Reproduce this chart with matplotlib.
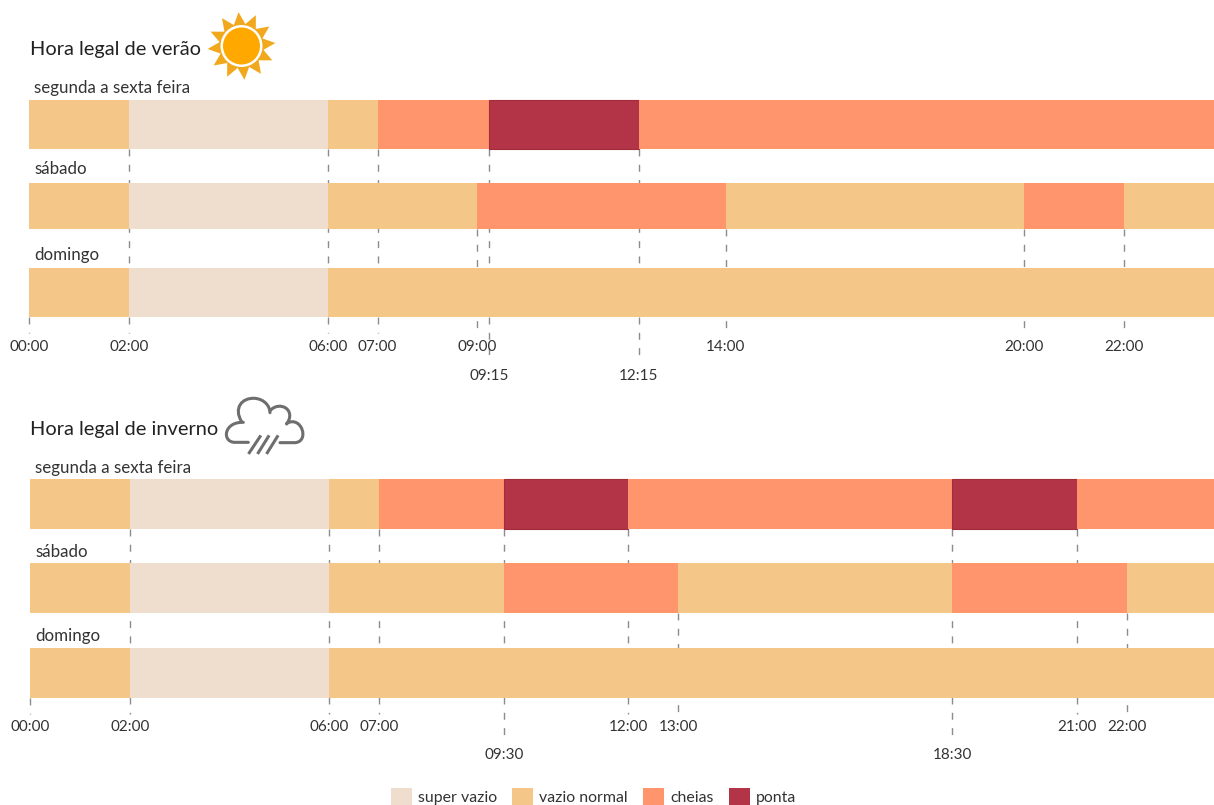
import matplotlib
matplotlib.use("Agg")
from matplotlib import pyplot as plt
from matplotlib.patches import Patch, Circle, Polygon, PathPatch
from matplotlib.path import Path
import numpy as np

plt.rcParams['font.family'] = ['Lato', 'DejaVu Sans']

W, H = 1214, 805

# tariff periods
SV, VN, CH, PT = 'super vazio', 'vazio normal', 'cheias', 'ponta'
period_names = [SV, VN, CH, PT]
period_colors = ['#EFDDCD', '#F4C688', '#FF956C', '#B23446']

day_labels = ['segunda a sexta feira', 'sábado', 'domingo']

# (start hour, end hour, period) per day type
summer_week = [(0, 2, VN), (2, 6, SV), (6, 7, VN), (7, 9.25, CH), (9.25, 12.25, PT), (12.25, 24, CH)]
summer_sat = [(0, 2, VN), (2, 6, SV), (6, 9, VN), (9, 14, CH), (14, 20, VN), (20, 22, CH), (22, 24, VN)]
summer_sun = [(0, 2, VN), (2, 6, SV), (6, 24, VN)]

winter_week = [(0, 2, VN), (2, 6, SV), (6, 7, VN), (7, 9.5, CH), (9.5, 12, PT), (12, 18.5, CH), (18.5, 21, PT), (21, 24, CH)]
winter_sat = [(0, 2, VN), (2, 6, SV), (6, 9.5, VN), (9.5, 13, CH), (13, 18.5, VN), (18.5, 22, CH), (22, 24, VN)]
winter_sun = [(0, 2, VN), (2, 6, SV), (6, 24, VN)]

summer_ticks = [0, 2, 6, 7, 9, 14, 20, 22]
summer_ticks_low = [9.25, 12.25]
winter_ticks = [0, 2, 6, 7, 12, 13, 21, 22]
winter_ticks_low = [9.5, 18.5]


def hhmm(h):
    return '%02d:%02d' % (int(h), round((h - int(h)) * 60))


def panel(days, ticks, ticks_low, x0, px_per_h, top, bottom, spans, dash_end, dash_end_low, pad, pad_low):
    # y axis runs in image pixels so each row can sit where it does in the picture
    ax = fig.add_axes([x0 / W, 1 - bottom / H, (W - x0) / W, (bottom - top) / H])
    ax.set_xlim(0, (W - x0) / px_per_h)
    ax.set_ylim(bottom, top)
    for day, (y0, y1) in zip(days, spans):
        for start, end, name in day:
            col = period_colors[period_names.index(name)]
            ax.barh((y0 + y1) / 2, end - start, left=start, height=y1 - y0, color=col,
                    edgecolor='#A02C3C' if name == PT else 'none', linewidth=0.8, zorder=3)
    for t in ticks + ticks_low:
        # dash starts under the first row that has this boundary
        rows = [i for i, day in enumerate(days) if any(seg[0] == t for seg in day)]
        y_start = spans[-1][1] if t == 0 or not rows else spans[rows[0]][1]
        y_end = dash_end_low if t in ticks_low else dash_end
        ax.plot([t, t], [y_start, y_end], color='#8C8C8C', lw=1, dashes=(5, 6),
                clip_on=False, zorder=1)
    ax.set_xticks(ticks)
    ax.set_xticklabels([hhmm(t) for t in ticks], fontsize=11, color='#333333')
    ax.set_xticks(ticks_low, minor=True)
    ax.set_xticklabels([hhmm(t) for t in ticks_low], minor=True, fontsize=11, color='#333333')
    ax.tick_params(axis='x', which='major', length=0, pad=pad)
    ax.tick_params(axis='x', which='minor', length=0, pad=pad_low)
    ax.set_yticks([])
    for s in ax.spines.values():
        s.set_visible(False)
    ax.patch.set_alpha(0)
    return ax


fig = plt.figure(figsize=(W / 100, H / 100), dpi=100, facecolor='white')

# overlay in image pixels for titles, day labels and icons
ov = fig.add_axes([0, 0, 1, 1], zorder=5)
ov.set_xlim(0, W)
ov.set_ylim(H, 0)
ov.axis('off')

panel([summer_week, summer_sat, summer_sun], summer_ticks, summer_ticks_low, 29.3, 49.75,
      80, 334, [(100, 149), (183, 229.5), (268, 317)], 333, 360, 4, 25)
panel([winter_week, winter_sat, winter_sun], winter_ticks, winter_ticks_low, 30.3, 49.84,
      460, 715, [(479, 528.5), (563, 612.5), (648, 697.5)], 714, 742, 3.5, 23.5)

ov.text(30, 49, 'Hora legal de verão', fontsize=14.4, color='#222222', va='center')
ov.text(30, 429, 'Hora legal de inverno', fontsize=14.4, color='#222222', va='center')
for label, y in zip(day_labels, [87.5, 169.5, 254.5]):
    ov.text(34, y, label, fontsize=12.2, color='#333333', va='center')
for label, y in zip(day_labels, [467.5, 551.5, 635.5]):
    ov.text(35, y, label, fontsize=12.2, color='#333333', va='center')

# sun icon
cx, cy = 241.5, 46
for a in np.radians(np.arange(5, 365, 30)):
    side = 0.36
    ov.add_patch(Polygon([(cx + 34 * np.cos(a), cy - 34 * np.sin(a)),
                          (cx + 20 * np.cos(a + side), cy - 20 * np.sin(a + side)),
                          (cx + 20 * np.cos(a - side), cy - 20 * np.sin(a - side))],
                         facecolor='#F2A81D', edgecolor='none'))
ov.add_patch(Circle((cx, cy), 21, facecolor='white', edgecolor='none'))
ov.add_patch(Circle((cx, cy), 18.5, facecolor='#FFA800', edgecolor='none'))


def cl(x, y):
    return (180 + x / 3, 390 + y / 3)


cloud_parts = [
    ([(205, 157), (165, 157), (125, 157), (130, 95), (190, 97)],
     [Path.MOVETO, Path.LINETO, Path.CURVE4, Path.CURVE4, Path.CURVE4]),
    ([(185, 95), (160, 55), (185, 22), (225, 25), (255, 28), (270, 50), (270, 68)],
     [Path.MOVETO] + [Path.CURVE4] * 6),
    ([(270, 62), (300, 30), (350, 60), (320, 102)],
     [Path.MOVETO] + [Path.CURVE4] * 3),
    ([(320, 100), (365, 75), (390, 155), (345, 158), (300, 158)],
     [Path.MOVETO, Path.CURVE4, Path.CURVE4, Path.CURVE4, Path.LINETO]),
]
for part, codes in cloud_parts:
    ov.add_patch(PathPatch(Path([cl(*p) for p in part], codes), facecolor='none',
                           edgecolor='#6E6E6E', lw=2.2, capstyle='round'))
for x_low, x_high in [(208, 240), (235, 265), (262, 292)]:
    ov.plot(*zip(cl(x_low, 188), cl(x_high, 140)), color='#6E6E6E', lw=2.2)

handles = [Patch(facecolor=c, edgecolor='none') for c in period_colors]
fig.legend(handles, period_names, loc='lower left', bbox_to_anchor=(390 / W, -0.002), ncol=4,
           frameon=False, fontsize=11.4, handlelength=1.34, handleheight=1.34, handletextpad=0.38,
           columnspacing=0.95, borderpad=0.05, borderaxespad=0, labelcolor='#333333')

fig.savefig('out.png', dpi=100)
